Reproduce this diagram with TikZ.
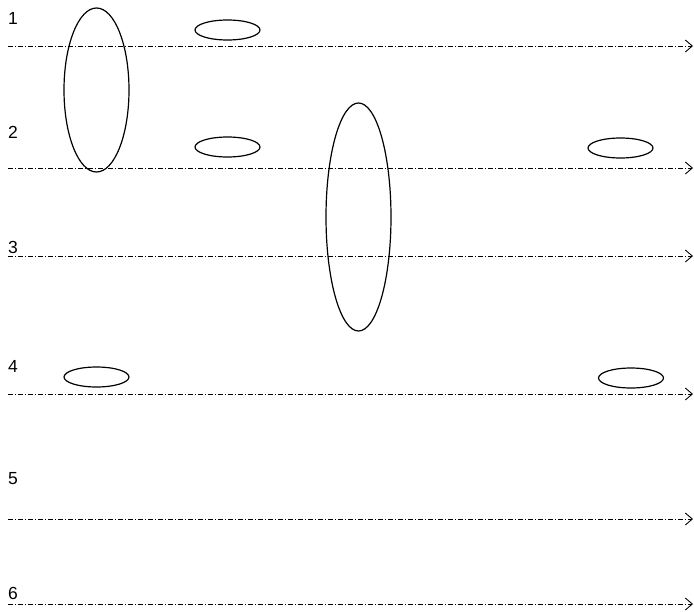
\documentclass[tikz,border=0pt]{standalone}
\usepackage{fontspec}
\setmainfont{Liberation Sans}
\usetikzlibrary{arrows.meta,shapes.geometric}
\begin{document}
\begin{tikzpicture}[x=1pt,y=-1pt,
  oval/.style={draw,ellipse,line width=1.2pt,inner sep=0pt},
  timeline/.style={line width=0.8pt,dash pattern=on 5pt off 2pt on 1pt off 2pt,-{Straight Barb[length=7pt,width=12pt,line width=0.9pt]}},
  lbl/.style={anchor=base west,inner sep=0pt,font=\fontsize{17.5}{17.5}\selectfont}]
\useasboundingbox (0,0) rectangle (694,611);
% labels
\node[lbl] (l1) at (8,24) {1};
\node[lbl] (l2) at (8,138) {2};
\node[lbl] (l3) at (8,253) {3};
\node[lbl] (l4) at (8,372) {4};
\node[lbl] (l5) at (8,484) {5};
\node[lbl] (l6) at (8,599) {6};
% lines
\foreach \i/\y in {1/46,2/168,3/256,4/394,5/519,6/604}{
  \coordinate (ls\i) at (8,\y);
  \coordinate (le\i) at (693,\y);
  \draw[timeline] (ls\i) -- (le\i);
}
% ellipses
\node[oval,minimum width=65pt,minimum height=164pt] (bigA) at (96.5,90) {};
\node[oval,minimum width=65pt,minimum height=228pt] (bigB) at (358.5,217) {};
\node[oval,minimum width=65pt,minimum height=20pt] (sm1) at (227.5,30) {};
\node[oval,minimum width=65pt,minimum height=20pt] (sm2) at (227.5,147) {};
\node[oval,minimum width=65pt,minimum height=20pt] (sm3) at (620.5,148) {};
\node[oval,minimum width=65pt,minimum height=20pt] (sm4) at (96.5,377) {};
\node[oval,minimum width=65pt,minimum height=20pt] (sm5) at (631,378) {};
\end{tikzpicture}
\end{document}
